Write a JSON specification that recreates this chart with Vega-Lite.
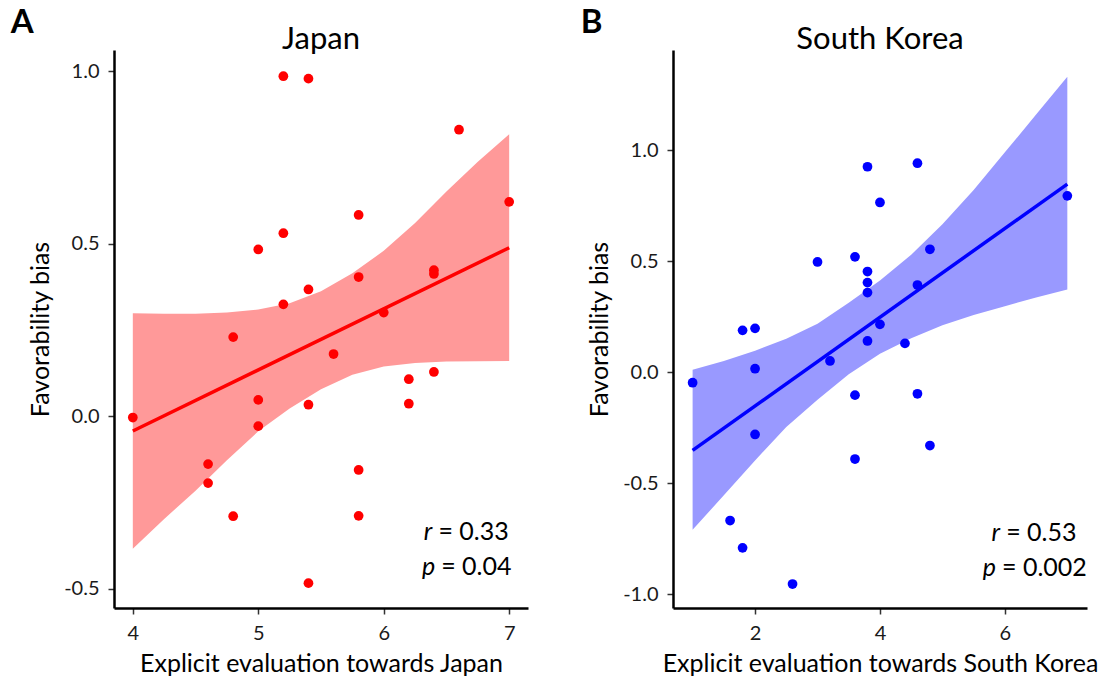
{
  "$schema": "https://vega.github.io/schema/vega-lite/v6.json",
  "background": "white",
  "padding": {"left": 10, "top": 7, "right": 0, "bottom": 0},
  "config": {
    "view": {"stroke": null},
    "font": "Lato",
    "axis": {"grid": false, "domainColor": "#000000", "domainWidth": 2.5, "tickColor": "#333333", "tickWidth": 1.5, "tickSize": 6, "labelFont": "Lato", "labelFontSize": 20, "labelColor": "#1a1a1a", "labelPadding": 9, "titleFont": "Lato", "titleFontSize": 25, "titleFontWeight": "normal", "titleColor": "#000000"},
    "title": {"font": "Lato", "fontSize": 31, "fontWeight": "normal", "color": "#000000"},
    "text": {"font": "Lato", "fontSize": 25, "baseline": "alphabetic", "color": "#000000"}
  },
  "datasets": {
    "japan_points": [
      {"x": 5.2, "y": 0.985}, {"x": 5.4, "y": 0.978}, {"x": 6.6, "y": 0.830}, {"x": 7.0, "y": 0.621},
      {"x": 5.8, "y": 0.583}, {"x": 5.2, "y": 0.530}, {"x": 5.0, "y": 0.483}, {"x": 6.4, "y": 0.423},
      {"x": 6.4, "y": 0.412}, {"x": 5.8, "y": 0.403}, {"x": 5.4, "y": 0.367}, {"x": 5.2, "y": 0.324},
      {"x": 6.0, "y": 0.300}, {"x": 4.8, "y": 0.229}, {"x": 5.6, "y": 0.180}, {"x": 6.4, "y": 0.128},
      {"x": 6.2, "y": 0.107}, {"x": 5.0, "y": 0.047}, {"x": 6.2, "y": 0.036}, {"x": 5.4, "y": 0.033},
      {"x": 4.0, "y": -0.004}, {"x": 5.0, "y": -0.029}, {"x": 4.6, "y": -0.139}, {"x": 5.8, "y": -0.156},
      {"x": 4.6, "y": -0.194}, {"x": 4.8, "y": -0.290}, {"x": 5.8, "y": -0.289}, {"x": 5.4, "y": -0.484}
    ],
    "japan_fit": [{"x": 4.0, "y": -0.043}, {"x": 7.0, "y": 0.488}],
    "japan_band": [
      {"x": 4.00, "y": -0.384, "y2": 0.298}, {"x": 4.25, "y": -0.298, "y2": 0.297},
      {"x": 4.50, "y": -0.216, "y2": 0.297}, {"x": 4.75, "y": -0.128, "y2": 0.300},
      {"x": 5.00, "y": -0.044, "y2": 0.309}, {"x": 5.25, "y": 0.022, "y2": 0.327},
      {"x": 5.50, "y": 0.078, "y2": 0.362}, {"x": 5.75, "y": 0.120, "y2": 0.414},
      {"x": 6.00, "y": 0.144, "y2": 0.479}, {"x": 6.25, "y": 0.154, "y2": 0.560},
      {"x": 6.50, "y": 0.158, "y2": 0.651}, {"x": 6.75, "y": 0.159, "y2": 0.737},
      {"x": 7.00, "y": 0.160, "y2": 0.817}
    ],
    "korea_points": [
      {"x": 3.8, "y": 0.925}, {"x": 4.6, "y": 0.941}, {"x": 4.0, "y": 0.764}, {"x": 7.0, "y": 0.794},
      {"x": 4.8, "y": 0.553}, {"x": 3.0, "y": 0.496}, {"x": 3.6, "y": 0.519}, {"x": 3.8, "y": 0.453},
      {"x": 3.8, "y": 0.403}, {"x": 3.8, "y": 0.358}, {"x": 4.6, "y": 0.392}, {"x": 1.8, "y": 0.188},
      {"x": 2.0, "y": 0.197}, {"x": 4.0, "y": 0.215}, {"x": 3.8, "y": 0.140}, {"x": 4.4, "y": 0.129},
      {"x": 3.2, "y": 0.050}, {"x": 2.0, "y": 0.015}, {"x": 1.0, "y": -0.048}, {"x": 3.6, "y": -0.104},
      {"x": 4.6, "y": -0.098}, {"x": 2.0, "y": -0.281}, {"x": 4.8, "y": -0.331}, {"x": 3.6, "y": -0.392},
      {"x": 1.6, "y": -0.669}, {"x": 1.8, "y": -0.792}, {"x": 2.6, "y": -0.955}
    ],
    "korea_fit": [{"x": 1.0, "y": -0.353}, {"x": 7.0, "y": 0.847}],
    "korea_band": [
      {"x": 1.0, "y": -0.711, "y2": 0.010}, {"x": 1.5, "y": -0.555, "y2": 0.050},
      {"x": 2.0, "y": -0.398, "y2": 0.096}, {"x": 2.5, "y": -0.247, "y2": 0.150},
      {"x": 3.0, "y": -0.125, "y2": 0.218}, {"x": 3.5, "y": -0.010, "y2": 0.312},
      {"x": 4.0, "y": 0.083, "y2": 0.412}, {"x": 4.5, "y": 0.152, "y2": 0.528},
      {"x": 5.0, "y": 0.211, "y2": 0.666}, {"x": 5.5, "y": 0.257, "y2": 0.820},
      {"x": 6.0, "y": 0.297, "y2": 0.990}, {"x": 6.5, "y": 0.336, "y2": 1.160},
      {"x": 7.0, "y": 0.372, "y2": 1.331}
    ]
  },
  "spacing": 52,
  "hconcat": [
    {
      "title": {"text": "A", "anchor": "start", "fontSize": 33, "fontWeight": "bold", "dx": -18, "offset": -16},
      "vconcat": [
        {
          "width": 414,
          "height": 558,
          "title": {"text": "Japan", "anchor": "middle", "offset": -6},
          "layer": [
            {
              "encoding": {
                "x": {"field": "x", "type": "quantitative", "scale": {"domain": [3.85, 7.15], "nice": false, "zero": false},
                      "axis": {"title": "Explicit evaluation towards Japan", "values": [4, 5, 6, 7], "format": ".0f", "titlePadding": 8}},
                "y": {"field": "y", "type": "quantitative", "scale": {"domain": [-0.556, 1.061], "nice": false, "zero": false},
                      "axis": {"title": "Favorability bias", "values": [-0.5, 0, 0.5, 1], "titlePadding": 10,
                               "labelExpr": "datum.value < 0 ? '-' + format(-datum.value, '.1f') : format(datum.value, '.1f')"}}
              },
              "layer": [
                {"data": {"name": "japan_band"}, "mark": {"type": "area", "color": "#FF9999", "opacity": 1}, "encoding": {"y2": {"field": "y2"}}},
                {"data": {"name": "japan_fit"}, "mark": {"type": "line", "color": "#FF0000", "strokeWidth": 3.5}, "encoding": {}},
                {"data": {"name": "japan_points"}, "mark": {"type": "circle", "color": "#FF0000", "size": 95, "opacity": 1}, "encoding": {}}
              ]
            },
            {"data": {"values": [{"label": "r"}]}, "mark": {"type": "text", "fontStyle": "italic", "align": "right", "dx": -6},
             "encoding": {"x": {"datum": 6.436, "type": "quantitative"}, "y": {"datum": -0.359, "type": "quantitative"}, "text": {"field": "label"}}},
            {"data": {"values": [{"label": "= 0.33"}]}, "mark": {"type": "text", "align": "left"},
             "encoding": {"x": {"datum": 6.436, "type": "quantitative"}, "y": {"datum": -0.359, "type": "quantitative"}, "text": {"field": "label"}}},
            {"data": {"values": [{"label": "p"}]}, "mark": {"type": "text", "fontStyle": "italic", "align": "right", "dx": -6},
             "encoding": {"x": {"datum": 6.458, "type": "quantitative"}, "y": {"datum": -0.461, "type": "quantitative"}, "text": {"field": "label"}}},
            {"data": {"values": [{"label": "= 0.04"}]}, "mark": {"type": "text", "align": "left"},
             "encoding": {"x": {"datum": 6.458, "type": "quantitative"}, "y": {"datum": -0.461, "type": "quantitative"}, "text": {"field": "label"}}}
          ]
        }
      ]
    },
    {
      "title": {"text": "B", "anchor": "start", "fontSize": 33, "fontWeight": "bold", "dx": -7, "offset": -16},
      "vconcat": [
        {
          "width": 414,
          "height": 558,
          "title": {"text": "South Korea", "anchor": "middle", "offset": -6},
          "layer": [
            {
              "encoding": {
                "x": {"field": "x", "type": "quantitative", "scale": {"domain": [0.686, 7.315], "nice": false, "zero": false},
                      "axis": {"title": "Explicit evaluation towards South Korea", "values": [2, 4, 6], "format": ".0f", "titlePadding": 8}},
                "y": {"field": "y", "type": "quantitative", "scale": {"domain": [-1.063, 1.451], "nice": false, "zero": false},
                      "axis": {"title": "Favorability bias", "values": [-1, -0.5, 0, 0.5, 1], "titlePadding": 10,
                               "labelExpr": "datum.value < 0 ? '-' + format(-datum.value, '.1f') : format(datum.value, '.1f')"}}
              },
              "layer": [
                {"data": {"name": "korea_band"}, "mark": {"type": "area", "color": "#9999FF", "opacity": 1}, "encoding": {"y2": {"field": "y2"}}},
                {"data": {"name": "korea_fit"}, "mark": {"type": "line", "color": "#0000FF", "strokeWidth": 3.5}, "encoding": {}},
                {"data": {"name": "korea_points"}, "mark": {"type": "circle", "color": "#0000FF", "size": 95, "opacity": 1}, "encoding": {}}
              ]
            },
            {"data": {"values": [{"label": "r"}]}, "mark": {"type": "text", "fontStyle": "italic", "align": "right", "dx": -6},
             "encoding": {"x": {"datum": 6.021, "type": "quantitative"}, "y": {"datum": -0.759, "type": "quantitative"}, "text": {"field": "label"}}},
            {"data": {"values": [{"label": "= 0.53"}]}, "mark": {"type": "text", "align": "left"},
             "encoding": {"x": {"datum": 6.021, "type": "quantitative"}, "y": {"datum": -0.759, "type": "quantitative"}, "text": {"field": "label"}}},
            {"data": {"values": [{"label": "p"}]}, "mark": {"type": "text", "fontStyle": "italic", "align": "right", "dx": -6},
             "encoding": {"x": {"datum": 5.954, "type": "quantitative"}, "y": {"datum": -0.917, "type": "quantitative"}, "text": {"field": "label"}}},
            {"data": {"values": [{"label": "= 0.002"}]}, "mark": {"type": "text", "align": "left"},
             "encoding": {"x": {"datum": 5.954, "type": "quantitative"}, "y": {"datum": -0.917, "type": "quantitative"}, "text": {"field": "label"}}}
          ]
        }
      ]
    }
  ]
}
